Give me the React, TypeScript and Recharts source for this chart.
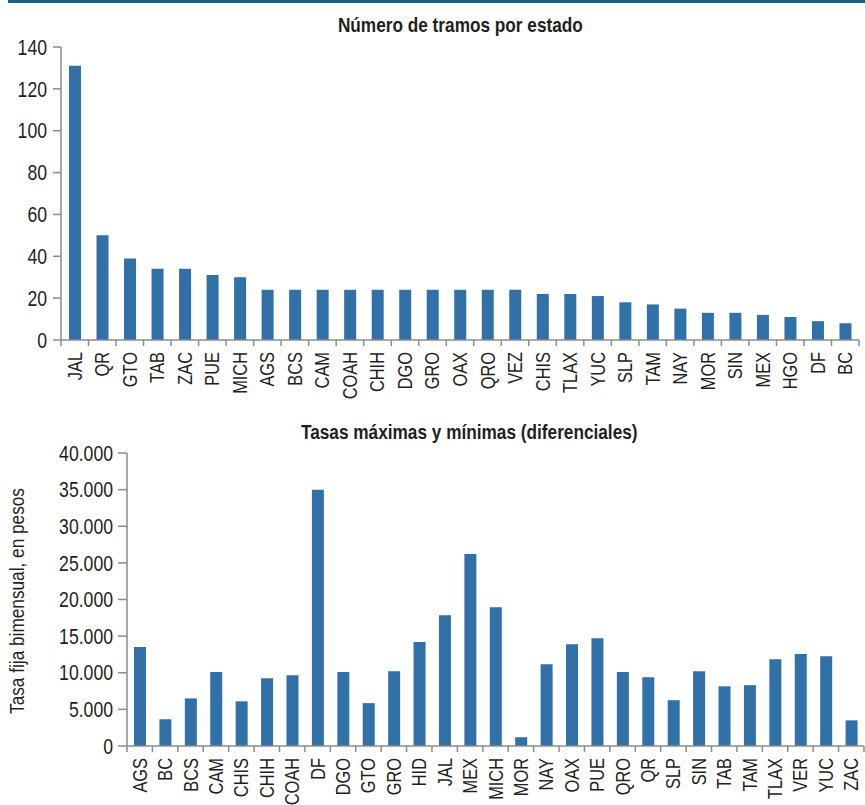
import { BarChart, Bar, XAxis, YAxis } from 'recharts';

// Número de tramos por estado
const tramosEstados = ['JAL', 'QR', 'GTO', 'TAB', 'ZAC', 'PUE', 'MICH', 'AGS', 'BCS', 'CAM', 'COAH', 'CHIH', 'DGO', 'GRO', 'OAX', 'QRO', 'VEZ', 'CHIS', 'TLAX', 'YUC', 'SLP', 'TAM', 'NAY', 'MOR', 'SIN', 'MEX', 'HGO', 'DF', 'BC'];
const tramosValores = [131, 50, 39, 34, 34, 31, 30, 24, 24, 24, 24, 24, 24, 24, 24, 24, 24, 22, 22, 21, 18, 17, 15, 13, 13, 12, 11, 9, 8];
const tramosTicks = [0, 20, 40, 60, 80, 100, 120, 140];

// Tasas máximas y mínimas (diferenciales)
const tasasEstados = ['AGS', 'BC', 'BCS', 'CAM', 'CHIS', 'CHIH', 'COAH', 'DF', 'DGO', 'GTO', 'GRO', 'HID', 'JAL', 'MEX', 'MICH', 'MOR', 'NAY', 'OAX', 'PUE', 'QRO', 'QR', 'SLP', 'SIN', 'TAB', 'TAM', 'TLAX', 'VER', 'YUC', 'ZAC'];
const tasasValores = [13500, 3650, 6500, 10100, 6100, 9250, 9650, 35000, 10100, 5850, 10200, 14200, 17850, 26200, 18950, 1200, 11150, 13900, 14700, 10100, 9400, 6250, 10200, 8150, 8300, 11850, 12550, 12250, 3500];
const tasasTicks = [0, 5000, 10000, 15000, 20000, 25000, 30000, 35000, 40000];

const tramosData = tramosEstados.map((name, i) => ({ name, value: tramosValores[i] }));
const tasasData = tasasEstados.map((name, i) => ({ name, value: tasasValores[i] }));

const BAR = '#3171a8';
const AXIS = '#8c8c8c';
const TEXT = '#231f20';
const FONT = '"Liberation Sans", Arial, sans-serif';
const NARROW = 0.82; // Arial Narrow look

const miles = (v: number) => String(v).replace(/\B(?=(\d{3})+(?!\d))/g, '.');

const CategoryTick = (props: any) => {
  const { x, y, payload, index, band, count } = props;
  return (
    <g>
      <line x1={x - band / 2} x2={x - band / 2} y1={y} y2={y + 6} stroke={AXIS} strokeWidth={1.5} />
      {index === count - 1 && (
        <line x1={x + band / 2} x2={x + band / 2} y1={y} y2={y + 6} stroke={AXIS} strokeWidth={1.5} />
      )}
      <text
        transform={`translate(${x + 7},${y + 12}) rotate(-90) scale(${NARROW},1)`}
        textAnchor="end"
        fill={TEXT}
        fontSize={20}
        fontFamily={FONT}
      >
        {payload.value}
      </text>
    </g>
  );
};

const ValueTick = (props: any) => {
  const { x, y, payload, format } = props;
  const label = format ? format(payload.value) : String(payload.value);
  return (
    <text
      transform={`translate(${x},${y}) scale(${NARROW},1)`}
      textAnchor="end"
      dy="0.36em"
      fill={TEXT}
      fontSize={21.5}
      fontFamily={FONT}
    >
      {label}
    </text>
  );
};

const Title = ({ text, left, top, width }: { text: string; left: number; top: number; width: number }) => (
  <div style={{ position: 'absolute', left, top, width, textAlign: 'center', fontWeight: 'bold', fontSize: 21, lineHeight: '24px', whiteSpace: 'nowrap' }}>
    <span style={{ display: 'inline-block', transform: `scaleX(${NARROW})` }}>{text}</span>
  </div>
);

export default function App() {
  const topBand = (865 - 6 - 61) / tramosData.length;
  const bottomBand = (865 - 1 - 127) / tasasData.length;

  return (
    <div style={{ position: 'absolute', left: 0, top: 0, width: 865, height: 805, background: '#fff', overflow: 'hidden', fontFamily: FONT, color: TEXT }}>
      <div style={{ position: 'absolute', left: 8, top: 0, width: 857, height: 3, background: '#1d5e8c' }} />

      <div style={{ position: 'absolute', left: 0, top: 0 }}>
        <BarChart width={865} height={410} data={tramosData} margin={{ top: 47, right: 6, left: 0, bottom: 0 }} barSize={12}>
          <XAxis
            dataKey="name"
            interval={0}
            height={70}
            tickLine={false}
            tickSize={0}
            tickMargin={0}
            axisLine={{ stroke: AXIS, strokeWidth: 1.5 }}
            tick={(p: any) => <CategoryTick {...p} band={topBand} count={tramosData.length} />}
          />
          <YAxis
            width={61}
            domain={[0, 140]}
            ticks={tramosTicks}
            interval={0}
            tickSize={8}
            tickMargin={6}
            axisLine={{ stroke: AXIS, strokeWidth: 1.5 }}
            tickLine={{ stroke: AXIS, strokeWidth: 1.5 }}
            tick={(p: any) => <ValueTick {...p} />}
          />
          <Bar dataKey="value" fill={BAR} isAnimationActive={false} />
        </BarChart>
      </div>
      <Title text="Número de tramos por estado" left={61} top={13} width={798} />

      <div style={{ position: 'absolute', left: 0, top: 400 }}>
        <BarChart width={865} height={405} data={tasasData} margin={{ top: 53, right: 1, left: 0, bottom: 0 }} barSize={12}>
          <XAxis
            dataKey="name"
            interval={0}
            height={59}
            tickLine={false}
            tickSize={0}
            tickMargin={0}
            axisLine={{ stroke: AXIS, strokeWidth: 1.5 }}
            tick={(p: any) => <CategoryTick {...p} band={bottomBand} count={tasasData.length} />}
          />
          <YAxis
            width={127}
            domain={[0, 40000]}
            ticks={tasasTicks}
            interval={0}
            tickSize={9}
            tickMargin={5}
            axisLine={{ stroke: AXIS, strokeWidth: 1.5 }}
            tickLine={{ stroke: AXIS, strokeWidth: 1.5 }}
            tick={(p: any) => <ValueTick {...p} format={miles} />}
          />
          <Bar dataKey="value" fill={BAR} isAnimationActive={false} />
        </BarChart>
      </div>
      <Title text="Tasas máximas y mínimas (diferenciales)" left={119} top={420} width={700} />
      <div style={{ position: 'absolute', left: 17, top: 601, width: 0, height: 0 }}>
        <div style={{ position: 'absolute', left: -150, top: -12, width: 300, textAlign: 'center', fontSize: 21, lineHeight: '24px', transform: `rotate(-90deg) scaleX(${NARROW})`, whiteSpace: 'nowrap' }}>
          Tasa fija bimensual, en pesos
        </div>
      </div>
    </div>
  );
}
